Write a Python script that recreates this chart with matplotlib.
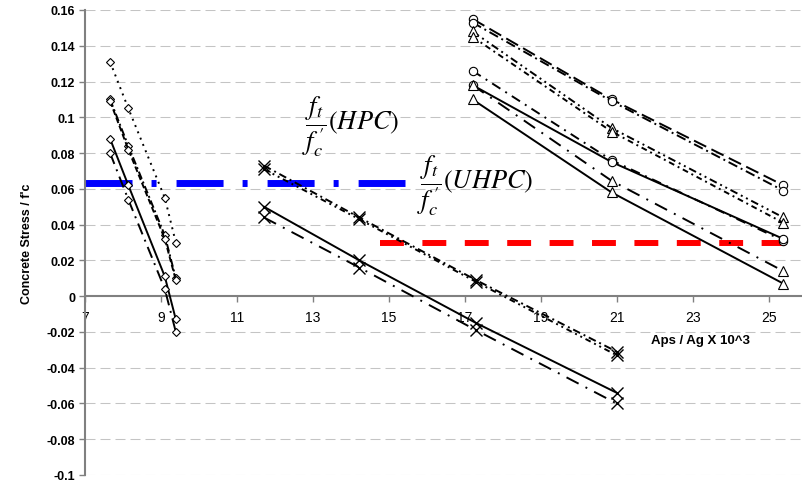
import numpy as np
import matplotlib.pyplot as plt

plt.rcParams['font.family'] = ['Liberation Sans', 'DejaVu Sans']
plt.rcParams['mathtext.fontset'] = 'stix'

# left group (diamond markers)
x_left = [7.66, 8.14, 9.1, 9.39]
left_dotted = [0.131, 0.105, 0.055, 0.030]
left_dashdot = [0.110, 0.084, 0.034, 0.010]
left_dashed = [0.109, 0.082, 0.032, 0.009]
left_solid = [0.088, 0.062, 0.011, -0.013]
left_longdashdot = [0.080, 0.054, 0.004, -0.020]

# middle group (x markers)
x_mid = [11.71, 14.22, 17.29, 20.99]
mid_dashed = [0.073, 0.044, 0.009, -0.031]
mid_dashdotdot = [0.071, 0.043, 0.008, -0.033]
mid_solid = [0.050, 0.020, -0.015, -0.054]
mid_dashdot = [0.044, 0.016, -0.019, -0.060]

# right group (circles / triangles)
x_right = [17.2, 20.86, 25.38]
right_c1 = [0.155, 0.110, 0.062]
right_c2 = [0.153, 0.109, 0.059]
right_t1 = [0.148, 0.094, 0.044]
right_t2 = [0.145, 0.092, 0.041]
right_c3 = [0.126, 0.076, 0.031]
right_c4 = [0.118, 0.075, 0.032]
right_t3 = [0.118, 0.0645, 0.014]
right_t4 = [0.110, 0.058, 0.007]

# limit lines
uhpc_limit = 0.063
uhpc_x = [7, 15.42]
hpc_limit = 0.030
hpc_x = [14.76, 25.9]

y_ticks = [-0.1, -0.08, -0.06, -0.04, -0.02, 0, 0.02, 0.04, 0.06, 0.08, 0.1, 0.12, 0.14, 0.16]
y_labels = ['-0.1', '-0.08', '-0.06', '-0.04', '-0.02', '0', '0.02', '0.04', '0.06', '0.08',
            '0.1', '0.12', '0.14', '0.16']
x_ticks = [7, 9, 11, 13, 15, 17, 19, 21, 23, 25]

fig = plt.figure(figsize=(8.03, 4.85), dpi=100)
ax = fig.add_axes([85/803, 9/485, 717/803, 465/485])

for yv in y_ticks:
    if yv == 0:
        continue
    ax.axhline(yv, color='#c4c4c4', lw=0.75, ls=(0, (9.6, 4.8)), zorder=0)

# threshold lines
ax.plot(uhpc_x, [uhpc_limit, uhpc_limit], color='#0000ff', lw=5,
        ls=(0, (6.77, 2.74, 0.72, 2.88)), zorder=1)
ax.plot(hpc_x, [hpc_limit, hpc_limit], color='#ff0000', lw=4.3,
        ls=(0, (4.0, 3.1)), zorder=1)

lw = 1.4
dk = dict(color='black', lw=lw, marker='D', ms=4.5, mfc='white', mec='black', mew=0.8, zorder=3)
ax.plot(x_left, left_dotted, ls=(0, (1, 2.5)), **dk)
ax.plot(x_left, left_dashdot, ls=(0, (4, 1.5, 1, 1.5)), **dk)
ax.plot(x_left, left_dashed, ls=(0, (3, 1.5)), **dk)
ax.plot(x_left, left_solid, ls='-', **dk)
ax.plot(x_left, left_longdashdot, ls=(0, (6, 3, 1, 3)), **dk)

xk = dict(color='black', lw=lw, marker='x', ms=9, mew=1, zorder=3)
ax.plot(x_mid, mid_dashed, ls=(0, (4, 2, 1, 2)), **xk)
ax.plot(x_mid, mid_dashdotdot, ls=(0, (3, 2, 1, 2, 1, 2)), **xk)
ax.plot(x_mid, mid_solid, ls='-', **xk)
ax.plot(x_mid, mid_dashdot, ls=(0, (7, 4, 1, 4)), **xk)

ck = dict(color='black', lw=lw, marker='o', ms=6, mfc='white', mec='black', mew=0.8, zorder=3)
tk = dict(color='black', lw=lw, marker='^', ms=6.5, mfc='white', mec='black', mew=0.8, zorder=3)
ax.plot(x_right, right_c1, ls=(0, (7, 3)), **ck)
ax.plot(x_right, right_c2, ls=(0, (5, 2, 1, 2)), **ck)
ax.plot(x_right, right_t1, ls=(0, (4, 2, 1, 2, 1, 2)), **tk)
ax.plot(x_right, right_t2, ls=(0, (3, 2, 1, 2)), **tk)
ax.plot(x_right, right_c3, ls=(0, (5, 3, 1, 3)), **ck)
ax.plot(x_right, right_c4, ls='-', **ck)
ax.plot(x_right, right_t3, ls=(0, (7, 4, 1, 4)), **tk)
ax.plot(x_right, right_t4, ls='-', **tk)

ax.text(12.72, 0.0955, r"$\dfrac{f_t}{f_c^{\,\prime}}(HPC)$", fontsize=19, ha='left', va='center')
ax.text(15.75, 0.0625, r"$\dfrac{f_t}{f_c^{\,\prime}}(UHPC)$", fontsize=19, ha='left', va='center')
ax.text(23.2, -0.0245, 'Aps / Ag X 10^3', fontsize=9.5, fontweight='bold', ha='center', va='center')

ax.set_xlim(7, 25.87)
ax.set_ylim(-0.1, 0.16)
ax.set_yticks(y_ticks)
ax.set_yticklabels(y_labels, fontweight='bold', fontsize=9)
ax.set_xticks(x_ticks)
ax.set_xticklabels([str(v) for v in x_ticks], fontweight='bold', fontsize=9)
ax.set_ylabel("Concrete Stress / f'c", fontweight='bold', fontsize=9, labelpad=10)

for s in ['top', 'right']:
    ax.spines[s].set_visible(False)
ax.spines['bottom'].set_position(('data', 0))
ax.spines['bottom'].set_color('#808080')
ax.spines['bottom'].set_linewidth(1.5)
ax.spines['left'].set_color('#808080')
ax.spines['left'].set_linewidth(1.5)
ax.tick_params(direction='out', length=4, width=1, color='#808080', pad=3)
ax.tick_params(axis='x', pad=6)

fig.savefig('out.png', dpi=100)
